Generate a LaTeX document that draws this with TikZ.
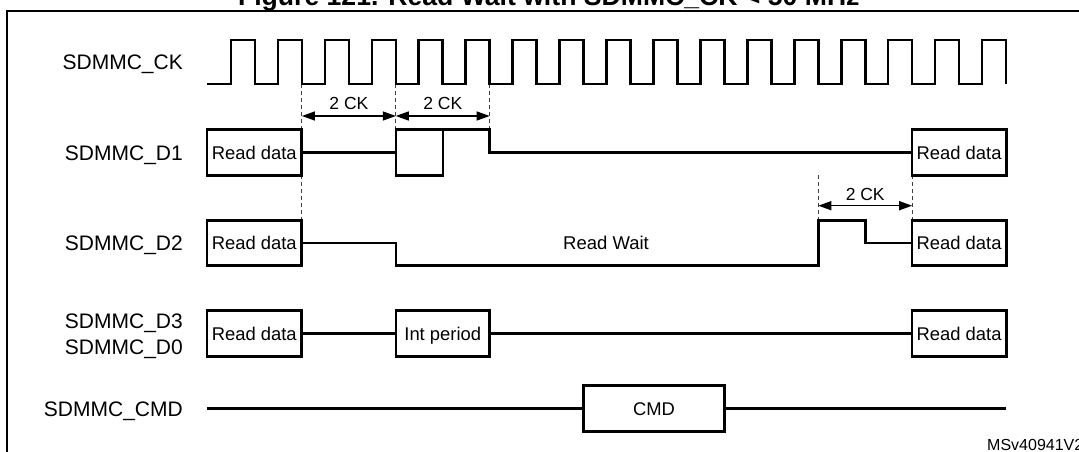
\documentclass[tikz,border=0pt]{standalone}
\usepackage{fontspec}
\setmainfont{Liberation Sans}
\usetikzlibrary{arrows.meta}
\begin{document}
\begin{tikzpicture}[x=1pt,y=-1pt,
  sig/.style={line width=2.6pt, line join=miter},
  box/.style={draw, line width=2.6pt, minimum height=45.5pt, inner sep=0pt,
    font=\fontsize{18.4}{20}\selectfont, text height=13.2pt, text depth=0pt},
  lab/.style={anchor=east, inner sep=0pt, font=\fontsize{21}{24}\selectfont,
    text height=15pt, text depth=0pt},
  plain/.style={inner sep=0pt, font=\fontsize{18.5}{20}\selectfont,
    text height=13.2pt, text depth=0pt},
  vguide/.style={line width=1.1pt, black!75, dash pattern=on 4pt off 3pt},
  dimline/.style={line width=1.3pt,
    {Triangle[length=13pt,width=9pt]}-{Triangle[length=13pt,width=9pt]}},
  dimlab/.style={inner sep=0pt, font=\fontsize{17.5}{20}\selectfont,
    text height=12.5pt, text depth=0pt}
]
\useasboundingbox (0,0) rectangle (1079,452);
\clip (0,0) rectangle (1079,452);

% title (cut off at the top) and frame
\node[anchor=base, inner sep=0pt, font=\bfseries\fontsize{26.6}{30}\selectfont]
  (title) at (548.8,6) {Figure 121. Read Wait with SDMMC\_CK < 50 MHz};
\draw[line width=2.2pt] (7.3,11.3) rectangle (1100,480);

% signal labels
\node[lab] (lck)  at (183,62.5)  {SDMMC\_CK};
\node[lab] (ld1)  at (183,152.5) {SDMMC\_D1};
\node[lab] (ld2)  at (183,243)   {SDMMC\_D2};
\node[lab] (ld3)  at (183,320.5) {SDMMC\_D3};
\node[lab] (ld0)  at (183,346.5) {SDMMC\_D0};
\node[lab] (lcmd) at (183,408.5) {SDMMC\_CMD};

% guide lines
\coordinate (g1a) at (301.9,84);   \coordinate (g1b) at (301.9,220.25);
\coordinate (g2a) at (395.8,84);   \coordinate (g2b) at (395.8,129.75);
\coordinate (g3a) at (489.7,84);   \coordinate (g3b) at (489.7,129.75);
\coordinate (g4a) at (818.3,175.25); \coordinate (g4b) at (818.3,220.25);
\coordinate (g5a) at (912.2,175.25); \coordinate (g5b) at (912.2,220.25);
\draw[vguide] (g1a) -- (g1b);
\draw[vguide] (g2a) -- (g2b);
\draw[vguide] (g3a) -- (g3b);
\draw[vguide] (g4a) -- (g4b);
\draw[vguide] (g5a) -- (g5b);

% clock
\draw[sig] (207,84) \foreach \k in {0,...,16}{
  -- ({231+46.94*\k},84) -- ({231+46.94*\k},40)
  -- ({255+46.94*\k},40) -- ({255+46.94*\k},84)};

% dimension arrows
\coordinate (a1) at (301.9,116); \coordinate (a2) at (395.8,116);
\coordinate (a3) at (489.7,116);
\coordinate (a4) at (818.3,205.7); \coordinate (a5) at (912.2,205.7);
\draw[dimline] (a1) -- (a2);
\draw[dimline] (a2) -- (a3);
\draw[dimline] (a4) -- (a5);
\node[dimlab] (ck1) at (348.9,103.3) {2 CK};
\node[dimlab] (ck2) at (442.8,103.3) {2 CK};
\node[dimlab] (ck3) at (865.2,194)   {2 CK};

% boxes
\node[box, minimum width=94.5pt] (d1a) at (254.3,152.5) {Read data};
\node[box, minimum width=94.5pt] (d1b) at (959.1,152.5) {Read data};
\node[box, minimum width=94.5pt] (d2a) at (254.3,243)   {Read data};
\node[box, minimum width=94.5pt] (d2b) at (959.1,243)   {Read data};
\node[box, minimum width=94.5pt] (d3a) at (254.3,333.5) {Read data};
\node[box, minimum width=93.9pt] (intp) at (442.75,333.5) {Int period};
\node[box, minimum width=94.5pt] (d3b) at (959.1,333.5) {Read data};
\node[box, minimum width=140.8pt] (cmd) at (654,408.5) {CMD};
\node[plain] (rw) at (606,243) {Read Wait};

% D1
\draw[sig] (d1a.east) -- (395.8,152.5);
\draw[sig] (442.8,129.75) -- (442.8,175.25) -- (395.8,175.25) -- (395.8,129.75)
  -- (489.7,129.75) -- (489.7,152.5) -- (d1b.west);
% D2
\draw[sig] (d2a.east) -- (395.8,243) -- (395.8,265.75) -- (818.3,265.75)
  -- (818.3,220.25) -- (865.2,220.25) -- (865.2,243) -- (d2b.west);
% D3 / D0
\draw[sig] (d3a.east) -- (intp.west);
\draw[sig] (intp.east) -- (d3b.west);
% CMD
\coordinate (cmdL) at (207,408.5);
\coordinate (cmdR) at (1006,408.5);
\draw[sig] (cmdL) -- (cmd.west);
\draw[sig] (cmd.east) -- (cmdR);

\node[anchor=base west, inner sep=0pt, font=\fontsize{16}{18}\selectfont]
  (ms) at (987,450.5) {MSv40941V2};
\end{tikzpicture}
\end{document}
